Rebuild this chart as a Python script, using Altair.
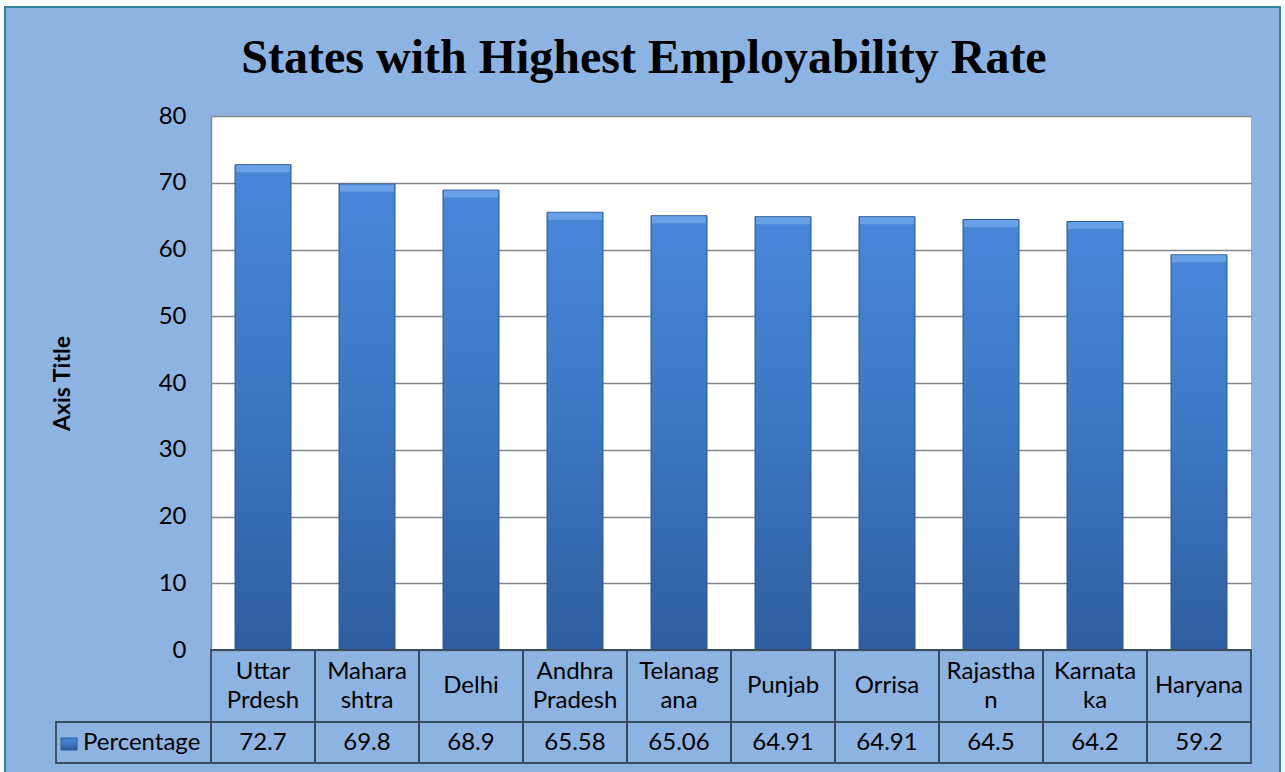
import altair as alt
import pandas as pd

# ---------------- data ----------------
states = ["Uttar\nPrdesh", "Mahara\nshtra", "Delhi", "Andhra\nPradesh", "Telanag\nana",
          "Punjab", "Orrisa", "Rajastha\nn", "Karnata\nka", "Haryana"]
values = [72.7, 69.8, 68.9, 65.58, 65.06, 64.91, 64.91, 64.5, 64.2, 59.2]
value_labels = ["72.7", "69.8", "68.9", "65.58", "65.06", "64.91", "64.91", "64.5", "64.2", "59.2"]
y_ticks = [0, 10, 20, 30, 40, 50, 60, 70, 80]
series_name = "Percentage"
title_text = "States with Highest Employability Rate"
axis_title = "Axis Title"

W, H = 1040, 534
BG = "#8DB3E2"
GRID = "#868686"
TABLE = "#3A4B5E"
FONT = "Lato"
LH = 29

df = pd.DataFrame({"state": states, "value": values, "label": value_labels})
one = pd.DataFrame({"t": [title_text], "s": [series_name]})

bar_grad = alt.LinearGradient(
    gradient="linear",
    stops=[alt.GradientStop(offset=0, color="#4887D8"),
           alt.GradientStop(offset=0.5, color="#3B76C2"),
           alt.GradientStop(offset=1, color="#2E5E9F")],
    x1=0, x2=0, y1=0, y2=1)

x_enc = alt.X("state:N", sort=states, axis=None,
              scale=alt.Scale(paddingInner=0, paddingOuter=0))

y_axis = alt.Axis(values=y_ticks, grid=True, gridColor=GRID, gridWidth=1.5,
                  domainColor=GRID, domainWidth=1.5, ticks=False,
                  labelFont=FONT, labelFontSize=24, labelColor="black", labelPadding=25,
                  title=axis_title, titleFont=FONT, titleFontSize=23, titleFontWeight="bold",
                  titleColor="black", titleX=-149, titleY=H / 2, titleAlign="center",
                  titleBaseline="middle")

base = alt.Chart(df)

bars = base.mark_bar(size=56, color=bar_grad, stroke="#2C5890", strokeWidth=1).encode(
    x=x_enc,
    y=alt.Y("value:Q", scale=alt.Scale(domain=[0, 80], nice=False), axis=y_axis),
)

bevel = base.mark_tick(size=54, thickness=7, yOffset=4, color="#6EA6EA", opacity=0.85).encode(
    x=x_enc, y=alt.Y("value:Q"),
)

cells1 = base.mark_rect(fillOpacity=0, stroke=TABLE, strokeWidth=1.8).encode(
    x=x_enc, y=alt.value(H), y2=alt.value(H + 72))
cells2 = base.mark_rect(fillOpacity=0, stroke=TABLE, strokeWidth=1.8).encode(
    x=x_enc, y=alt.value(H + 72), y2=alt.value(H + 113))

txt = dict(font=FONT, fontSize=24, lineBreak="\n", lineHeight=LH,
           baseline="middle", align="center", color="black")
cat_two = base.transform_filter("indexof(datum.state, '\\n') >= 0").mark_text(**txt).encode(
    x=x_enc, y=alt.value(H + 36 - LH / 2), text="state:N")
cat_one = base.transform_filter("indexof(datum.state, '\\n') < 0").mark_text(**txt).encode(
    x=x_enc, y=alt.value(H + 36), text="state:N")
val_text = base.mark_text(font=FONT, fontSize=24, baseline="middle", align="center",
                          color="black").encode(
    x=x_enc, y=alt.value(H + 93), text="label:N")

c1 = alt.Chart(one)
pct_cell = c1.mark_rect(fillOpacity=0, stroke=TABLE, strokeWidth=1.8).encode(
    x=alt.value(-155), x2=alt.value(0), y=alt.value(H + 72), y2=alt.value(H + 113))
pct_icon = c1.mark_rect(color=bar_grad, stroke="#2C5890", strokeWidth=1).encode(
    x=alt.value(-150), x2=alt.value(-134), y=alt.value(H + 88), y2=alt.value(H + 100))
pct_text = c1.mark_text(font=FONT, fontSize=24, baseline="middle", align="left",
                        color="black").encode(
    x=alt.value(-128), y=alt.value(H + 93), text="s:N")

title = c1.mark_text(font="Liberation Serif", fontSize=48, fontWeight="bold",
                     baseline="alphabetic", align="center", color="black").encode(
    x=alt.value(433), y=alt.value(-43), text="t:N")

# outer frame: white margins and teal border
strip_top = c1.mark_rect(color="white").encode(
    x=alt.value(-211), x2=alt.value(W + 34), y=alt.value(-116), y2=alt.value(-109))
strip_left = c1.mark_rect(color="white").encode(
    x=alt.value(-211), x2=alt.value(-206), y=alt.value(-116), y2=alt.value(H + 122))
strip_right = c1.mark_rect(color="white").encode(
    x=alt.value(W + 29), x2=alt.value(W + 34), y=alt.value(-116), y2=alt.value(H + 122))
border = c1.mark_rect(fillOpacity=0, stroke="#31859C", strokeWidth=2).encode(
    x=alt.value(-206), x2=alt.value(W + 29), y=alt.value(-109), y2=alt.value(H + 140))

chart = alt.layer(
    bars, bevel, cells1, cells2, cat_two, cat_one, val_text,
    pct_cell, pct_icon, pct_text, title,
    strip_top, strip_left, strip_right, border,
).properties(
    width=W, height=H,
    autosize=alt.AutoSizeParams(type="none"),
    padding={"left": 211, "top": 116, "right": 34, "bottom": 122},
    background=BG,
).configure_view(fill="white", stroke=None)

chart.save("out.html", embed_options={"renderer": "svg", "actions": False})
